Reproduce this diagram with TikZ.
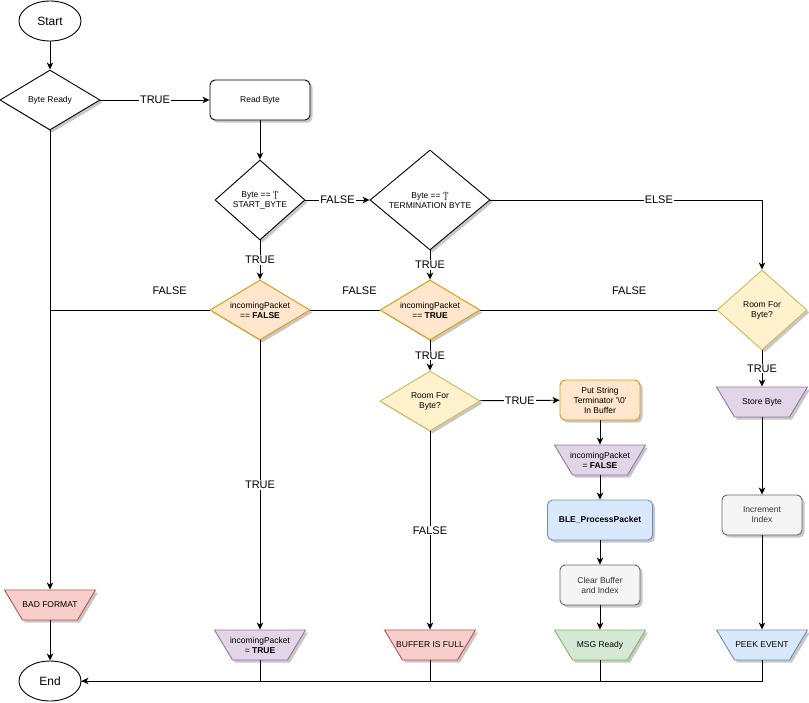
\documentclass[tikz,border=0pt]{standalone}
\usepackage{fontspec}
\setmainfont{Liberation Sans}
\usepackage{xcolor}
\usepackage{tikz}
\usetikzlibrary{shapes.geometric,arrows.meta,shadows,positioning}

\definecolor{orangefill}{HTML}{FFE6CC}
\definecolor{orangeline}{HTML}{D79B00}
\definecolor{yellowfill}{HTML}{FFF2CC}
\definecolor{yellowline}{HTML}{D6B656}
\definecolor{purplefill}{HTML}{E1D5E7}
\definecolor{purpleline}{HTML}{9673A6}
\definecolor{bluefill}{HTML}{DAE8FC}
\definecolor{blueline}{HTML}{6C8EBF}
\definecolor{greenfill}{HTML}{D5E8D4}
\definecolor{greenline}{HTML}{82B366}
\definecolor{redfill}{HTML}{F8CECC}
\definecolor{redline}{HTML}{B85450}
\definecolor{grayfill}{HTML}{F5F5F5}
\definecolor{grayline}{HTML}{666666}

% text of a trapezium: 30pt high, kept out of its width
\newcommand{\iotext}[1]{\makebox[0pt]{\parbox[c][30pt][c]{3cm}{\centering #1}}}

\begin{document}
\begin{tikzpicture}[x=1pt, y=-1pt, line width=0.9pt,
 font=\fontsize{8.5}{10}\selectfont,
 >={Stealth[length=7pt, width=6.5pt, inset=2pt]},
 shade/.style={drop shadow={shadow xshift=2.5pt, shadow yshift=-2.5pt, fill=black, opacity=0.22}},
 terminal/.style={ellipse, draw, fill=white, inner sep=0pt, minimum width=62, minimum height=40, font=\fontsize{12}{14}\selectfont},
 decision/.style={diamond, draw, fill=white, inner sep=0pt, align=center, shade},
 proc/.style={rectangle, rounded corners=5pt, draw, fill=white, inner sep=0pt, minimum width=100, minimum height=40, align=center, shade},
 io/.style={trapezium, trapezium angle=59, shape border rotate=180, trapezium stretches body, draw, inner sep=0pt, minimum width=91, shade},
 lbl/.style={fill=white, inner sep=1pt, font=\fontsize{11}{13}\selectfont}]
\useasboundingbox (0,0) rectangle (809,702);

% Left column
\node[terminal] (start) at (50,21) {Start};
\node[decision, minimum width=100, minimum height=60, aspect=1.67] (ready) at (50,100) {Byte Ready};
\node[io, fill=redfill, draw=redline] (bad) at (50,605) {\iotext{BAD FORMAT}};
\node[terminal] (end) at (50,681) {End};

% Start byte column
\node[proc] (read) at (260,100) {Read Byte};
\node[decision, minimum width=90, minimum height=80, aspect=1.1] (open) at (260,200) {Byte == \textquotesingle[\textquotesingle\\START\_BYTE};
\node[decision, fill=orangefill, draw=orangeline, minimum width=100, minimum height=60, aspect=1.67] (incf) at (260,310) {incomingPacket\\== \textbf{FALSE}};
\node[io, fill=purplefill, draw=purpleline] (sett) at (260,645) {\iotext{incomingPacket\\= \textbf{TRUE}}};

% Termination byte column
\node[decision, minimum width=120, minimum height=100, aspect=1.2] (close) at (430,200) {Byte == \textquotesingle]\textquotesingle\\TERMINATION BYTE};
\node[decision, fill=orangefill, draw=orangeline, minimum width=100, minimum height=60, aspect=1.67] (inct) at (430,310) {incomingPacket\\== \textbf{TRUE}};
\node[decision, fill=yellowfill, draw=yellowline, minimum width=100, minimum height=60, aspect=1.67] (roomm) at (430,401) {Room For\\Byte?};
\node[io, fill=redfill, draw=redline] (full) at (430,645) {\iotext{BUFFER IS FULL}};

% Packet done column
\node[proc, fill=orangefill, draw=orangeline, minimum width=80] (termin) at (600,400) {Put String\\Terminator \textquotesingle\textbackslash 0\textquotesingle\\In Buffer};
\node[io, fill=purplefill, draw=purpleline] (setf) at (600,460) {\iotext{incomingPacket\\= \textbf{FALSE}}};
\node[proc, fill=bluefill, draw=blueline, minimum width=105] (ble) at (600,520) {\textbf{BLE\_ProcessPacket}};
\node[proc, fill=grayfill, draw=grayline, text=black!80, minimum width=80] (clear) at (600,585) {Clear Buffer\\and Index};
\node[io, fill=greenfill, draw=greenline] (msg) at (600,645) {\iotext{MSG Ready}};

% Data byte column
\node[decision, fill=yellowfill, draw=yellowline, minimum width=90, minimum height=80, aspect=1.1] (roomr) at (762,310) {Room For\\Byte?};
\node[io, fill=purplefill, draw=purpleline] (store) at (762,402) {\iotext{Store Byte}};
\node[proc, fill=grayfill, draw=grayline, text=black!80, minimum width=80] (incr) at (762,515) {Increment\\Index};
\node[io, fill=bluefill, draw=blueline] (peek) at (762,645) {\iotext{PEEK EVENT}};

% Connectors
\draw[->] (start) -- (ready);
\draw[->] (ready) -- node[lbl] {TRUE} (read);
\draw[->] (ready) -- (bad);
\draw[->] (bad) -- (end);
\draw[->] (read) -- (open);
\draw[->] (open) -- node[lbl] {FALSE} (close);
\draw[->] (open) -- node[lbl] {TRUE} (incf);
\draw[->] (close) -- node[lbl] {TRUE} (inct);
\draw[->] (close) -| node[lbl, pos=0.31] {ELSE} (roomr);
\draw (incf) -- node[lbl, pos=0.25, yshift=19pt] {FALSE} (incf -| ready);
\draw (inct) -- node[lbl, pos=0.29, yshift=19pt] {FALSE} (incf);
\draw (roomr) -- node[lbl, pos=0.37, yshift=19pt] {FALSE} (inct);
\draw[->] (incf) -- node[lbl] {TRUE} (sett);
\draw[->] (inct) -- node[lbl] {TRUE} (roomm);
\draw[->] (roomm) -- node[lbl] {TRUE} (termin);
\draw[->] (roomm) -- node[lbl] {FALSE} (full);
\draw[->] (termin) -- (setf);
\draw[->] (setf) -- (ble);
\draw[->] (ble) -- (clear);
\draw[->] (clear) -- (msg);
\draw[->] (roomr) -- node[lbl] {TRUE} (store);
\draw[->] (store) -- (incr);
\draw[->] (incr) -- (peek);

% Back to End
\draw[->] (peek) |- (end);
\draw (msg) |- (end);
\draw (full) |- (end);
\draw (sett) |- (end);
\end{tikzpicture}
\end{document}
